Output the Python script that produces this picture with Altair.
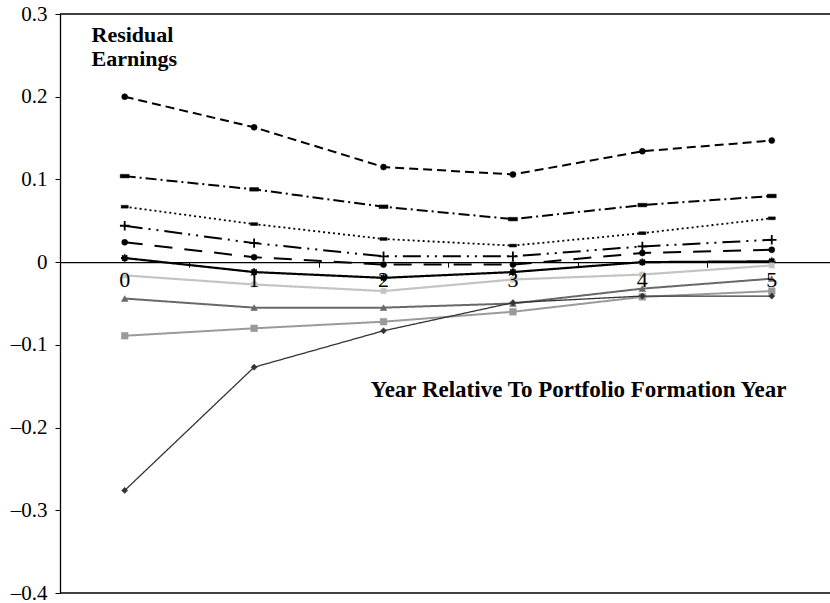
import altair as alt
import pandas as pd

# Years relative to the portfolio formation year
years = [0, 1, 2, 3, 4, 5]

# Mean residual earnings per portfolio, highest to lowest
portfolio_1 = [0.200, 0.163, 0.115, 0.106, 0.134, 0.147]
portfolio_2 = [0.104, 0.088, 0.067, 0.052, 0.069, 0.080]
portfolio_3 = [0.067, 0.046, 0.028, 0.020, 0.035, 0.053]
portfolio_4 = [0.044, 0.023, 0.007, 0.007, 0.019, 0.027]
portfolio_5 = [0.024, 0.006, -0.003, -0.003, 0.011, 0.015]
portfolio_6 = [0.005, -0.012, -0.019, -0.012, 0.000, 0.001]
portfolio_7 = [-0.016, -0.027, -0.035, -0.021, -0.015, -0.004]
portfolio_8 = [-0.044, -0.055, -0.055, -0.050, -0.032, -0.020]
portfolio_9 = [-0.089, -0.080, -0.072, -0.060, -0.042, -0.035]
portfolio_10 = [-0.276, -0.127, -0.083, -0.049, -0.041, -0.041]

series_names = ["P1", "P2", "P3", "P4", "P5", "P6", "P7", "P8", "P9", "P10"]
series_values = [portfolio_1, portfolio_2, portfolio_3, portfolio_4, portfolio_5,
                 portfolio_6, portfolio_7, portfolio_8, portfolio_9, portfolio_10]

rows = []
for name, vals in zip(series_names, series_values):
    for yr, v in zip(years, vals):
        rows.append({"series": name, "year": yr, "value": v})
df = pd.DataFrame(rows)

FONT = "Liberation Serif"
PLOT_H = 579

# Line and marker styling per series
line_colors = ["#000000"] * 6 + ["#c4c4c4", "#686868", "#9a9a9a", "#333333"]
line_dashes = [[9, 5], [11, 4, 2, 4], [2, 3], [18, 6, 2, 6, 2, 6], [18, 12],
               [1, 0], [1, 0], [1, 0], [1, 0], [1, 0]]
line_widths = [2, 2, 1.8, 2, 2, 2.2, 2.2, 2, 2, 1.3]

DASH = "M-1,-0.4H1V0.4H-1Z"
PLUS = "M-1,0H1M0,-1V1"
STAR = "M-1,0H1M0,-1V1M-0.7,-0.7L0.7,0.7M-0.7,0.7L0.7,-0.7"
marker_shapes = ["circle", DASH, DASH, PLUS, "circle", STAR,
                 "square", "triangle-up", "square", "diamond"]
marker_sizes = [36, 80, 50, 90, 36, 55, 28, 45, 45, 38]
marker_filled = [True, True, True, False, True, False, True, True, True, True]

y_scale = alt.Scale(domain=[-0.4, 0.3], nice=False, zero=False)

x_enc = alt.X(
    "year:Q",
    scale=alt.Scale(domain=[-0.5, 5.45], nice=False, zero=False),
    axis=alt.Axis(
        values=[0.5, 1.5, 2.5, 3.5, 4.5],
        labels=False,
        grid=False,
        tickSize=5,
        tickColor="black",
        domainColor="black",
        offset=-PLOT_H * 4 / 7,
        title="Year Relative To Portfolio Formation Year",
        titleFont=FONT,
        titleFontSize=23,
        titleFontWeight="bold",
        titleColor="black",
        titleX=518,
        titleY=134,
        titleAlign="center",
        titleBaseline="alphabetic",
    ),
)

y_enc = alt.Y(
    "value:Q",
    scale=y_scale,
    axis=alt.Axis(
        values=[-0.4, -0.3, -0.2, -0.1, 0, 0.1, 0.2, 0.3],
        labelExpr="datum.value == 0 ? '0' : replace(replace(format(datum.value, '.1f'), '\u2212', '\u2013'), '-', '\u2013')",
        grid=False,
        tickSize=5,
        tickColor="black",
        domainColor="black",
        labelFont=FONT,
        labelFontSize=21,
        labelColor="black",
        labelPadding=8,
        title=["Residual", "Earnings"],
        titleFont=FONT,
        titleFontSize=22,
        titleFontWeight="bold",
        titleColor="black",
        titleAngle=0,
        titleX=31,
        titleY=27,
        titleAlign="left",
        titleBaseline="alphabetic",
        titleLineHeight=24,
    ),
)

base = alt.Chart(df)

layers = []

# Frame lines along the top and bottom of the plot area
layers.append(
    alt.Chart(pd.DataFrame({"value": [0.3, -0.4]}))
    .mark_rule(color="black", strokeWidth=1.3)
    .encode(y=y_enc)
)

for i, name in enumerate(series_names):
    sub = base.transform_filter(alt.datum.series == name)
    layers.append(
        sub.mark_line(
            color=line_colors[i],
            strokeDash=line_dashes[i],
            strokeWidth=line_widths[i],
        ).encode(x=x_enc, y=y_enc)
    )
    if marker_filled[i]:
        pt = sub.mark_point(
            shape=marker_shapes[i], size=marker_sizes[i], filled=True,
            color=line_colors[i], opacity=1, strokeWidth=0.5,
            stroke=line_colors[i],
        )
    else:
        pt = sub.mark_point(
            shape=marker_shapes[i], size=marker_sizes[i], filled=False,
            color=line_colors[i], opacity=1, strokeWidth=1.8,
        )
    layers.append(pt.encode(x=x_enc, y=y_enc))

# Category labels hanging below the zero line
labels_df = pd.DataFrame({"year": years, "label": [str(y) for y in years], "value": [0.0] * len(years)})
layers.append(
    alt.Chart(labels_df)
    .mark_text(font=FONT, fontSize=22, color="black", baseline="middle", dy=18)
    .encode(x=x_enc, y=y_enc, text="label:N")
)

chart = (
    alt.layer(*layers)
    .properties(
        width=770,
        height=PLOT_H,
        autosize=alt.AutoSizeParams(type="none"),
        padding={"left": 60, "top": 14, "right": 0, "bottom": 10},
        background="white",
    )
    .configure_view(stroke=None)
    .configure_axis(domainWidth=1.3, tickWidth=1)
)

chart.save("out.html", embed_options={"renderer": "svg", "actions": False})
